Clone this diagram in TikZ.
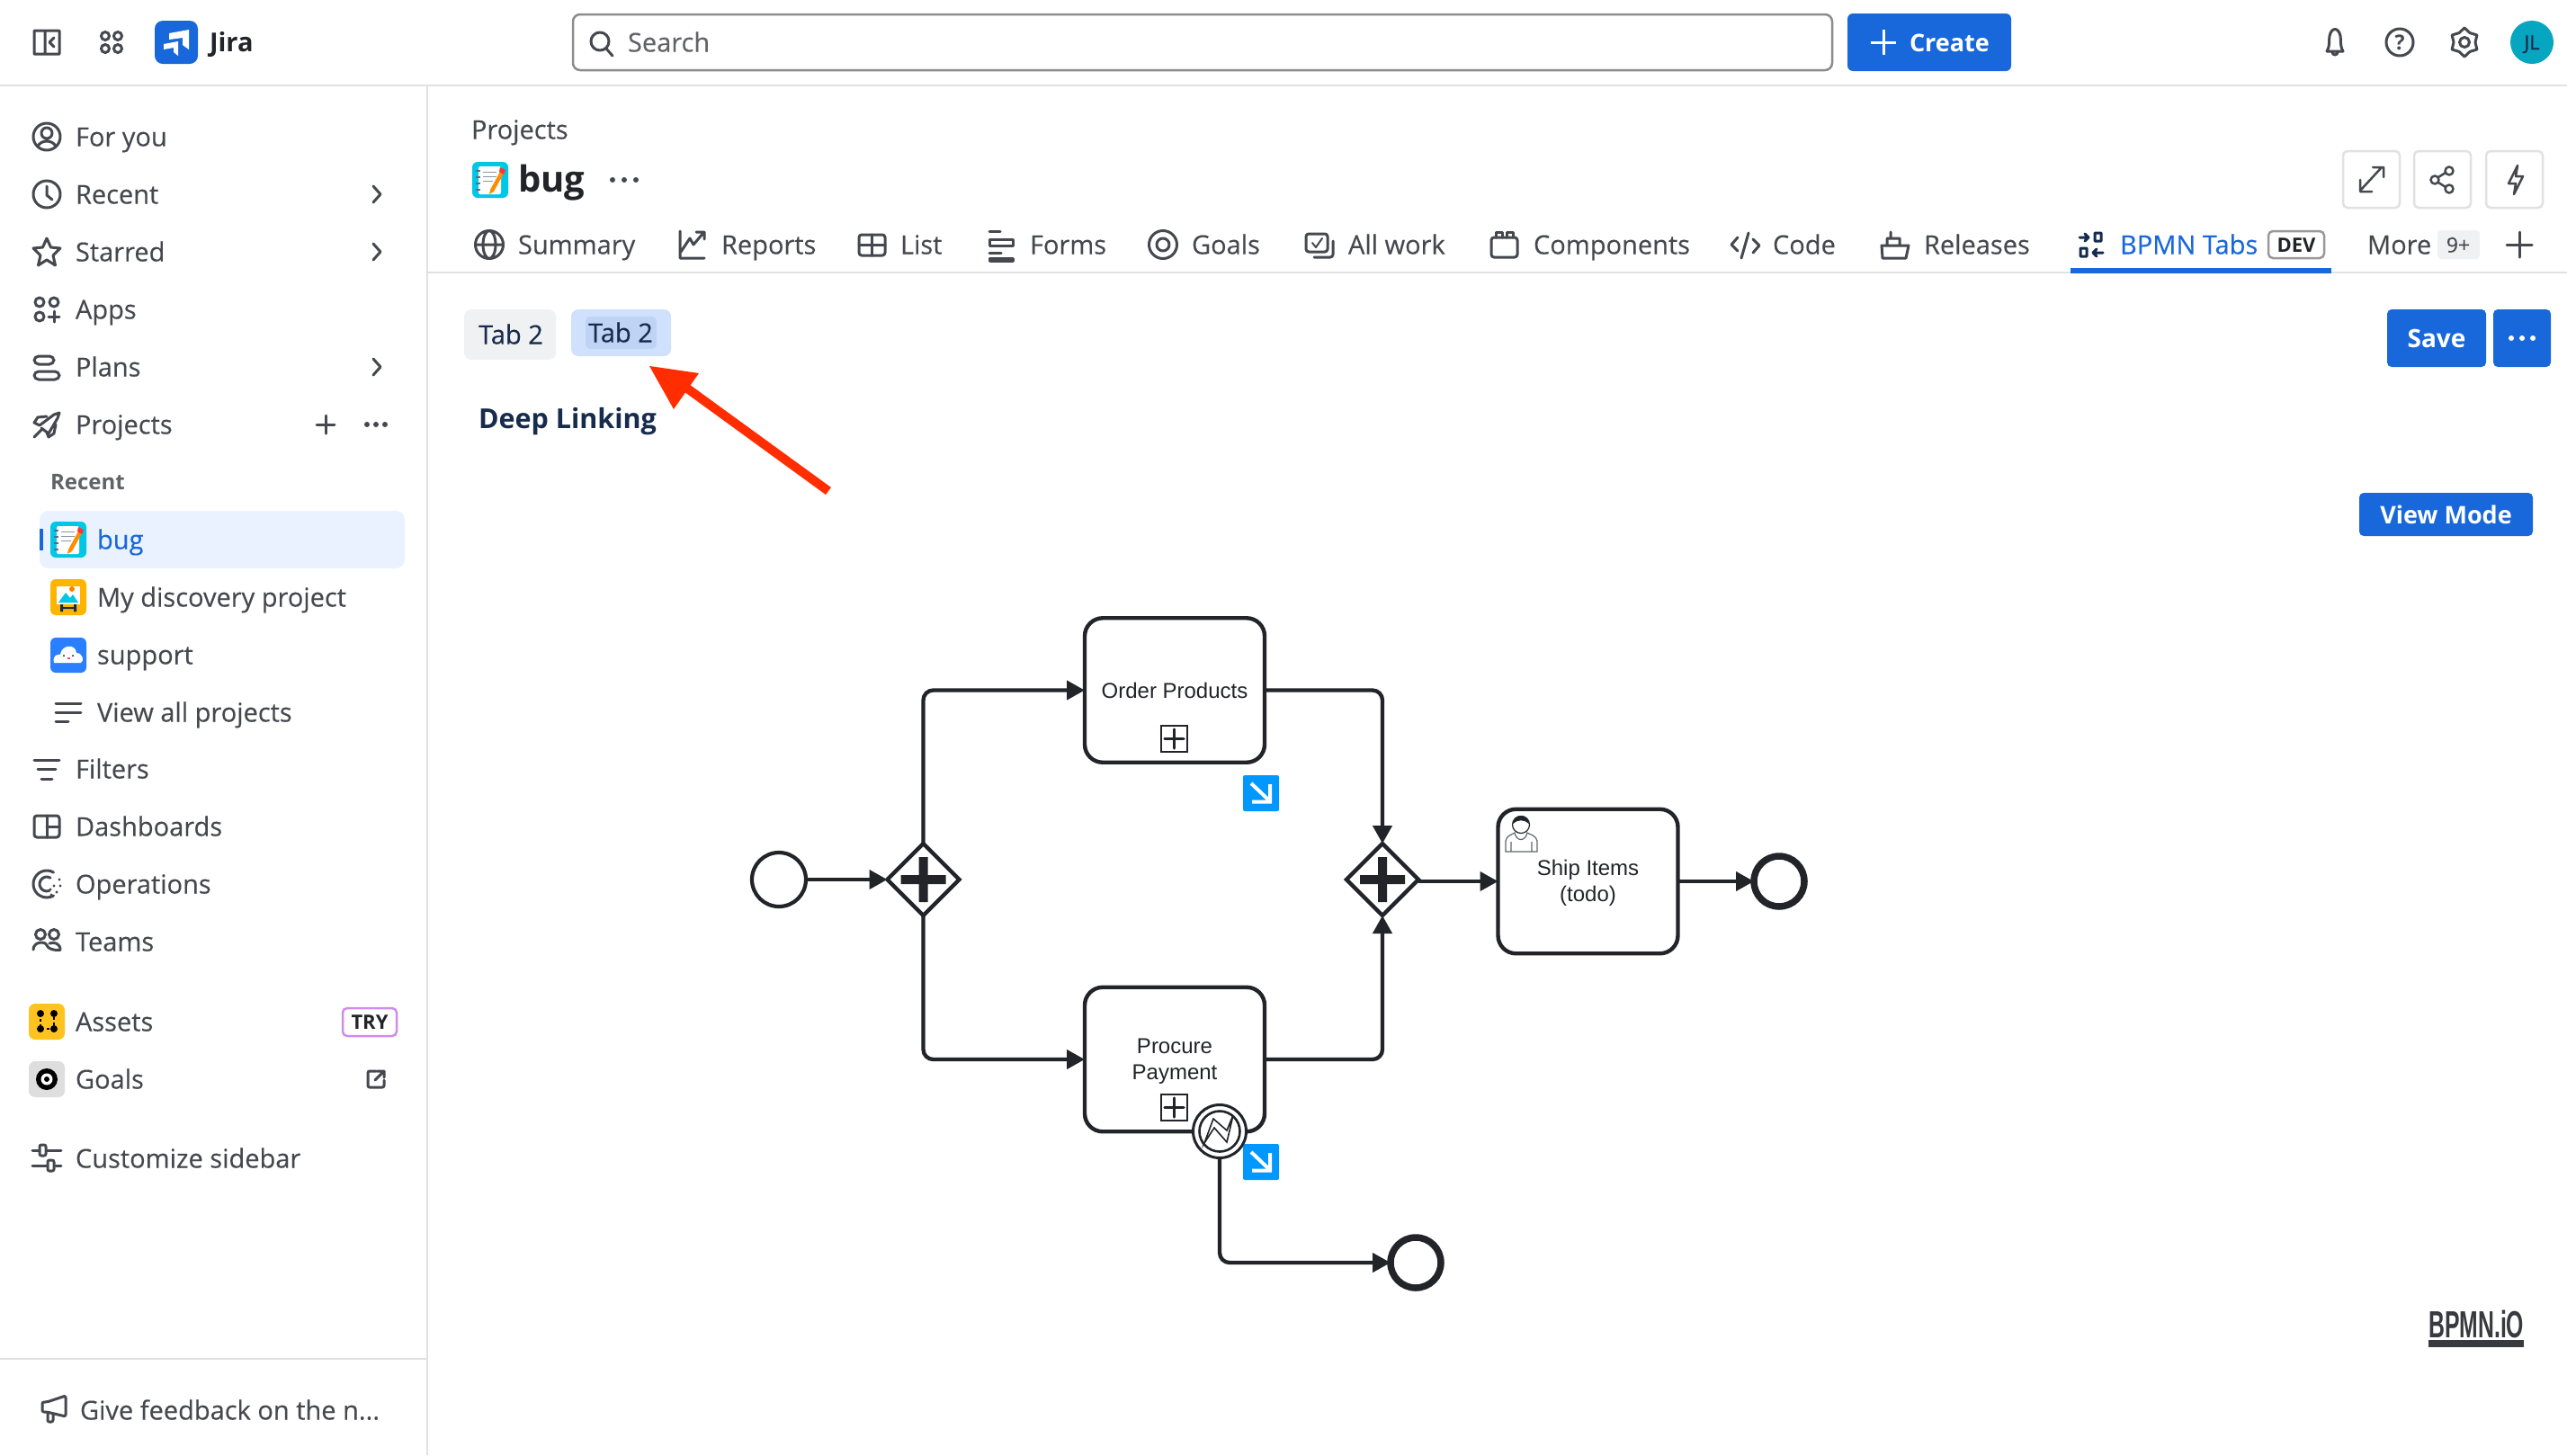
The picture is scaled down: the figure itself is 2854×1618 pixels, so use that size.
\documentclass[tikz,border=0pt]{standalone}
\usepackage{fontspec}
\setmainfont{Open Sans}[UprightFeatures={FakeBold=0.25}]
\newfontfamily\arialf{Liberation Sans}
\newfontfamily\logof{Liberation Sans}[FakeStretch=0.59]
\usetikzlibrary{shapes.geometric,arrows.meta,calc}
\definecolor{ink}{HTML}{46484F}
\definecolor{navy}{HTML}{172B4D}
\definecolor{jblue}{HTML}{1868DB}
\definecolor{rulec}{HTML}{E0E1E3}
\definecolor{hili}{HTML}{E9F2FE}
\definecolor{tabgrey}{HTML}{F0F1F2}
\definecolor{tabblue}{HTML}{CFE1FD}
\definecolor{tabin}{HTML}{BFD3F5}
\definecolor{redar}{HTML}{FF2D00}
\definecolor{bpdark}{HTML}{22242A}
\definecolor{markblue}{HTML}{0098FF}
\definecolor{bugcyan}{HTML}{00C7E6}
\definecolor{discyel}{HTML}{FFB400}
\definecolor{supblue}{HTML}{2A7FFF}
\definecolor{assetyel}{HTML}{FFC31F}
\definecolor{tryvio}{HTML}{CF8CF0}
\definecolor{avateal}{HTML}{06A5C0}
\tikzset{
 x=1pt,y=-1pt,
 txt/.style={inner sep=0pt,outer sep=0pt,anchor=west,text=ink,text height=21pt,text depth=0pt,font=\fontsize{29}{34}\selectfont},
 tabt/.style={txt},
 ico/.style={draw=ink,line width=3pt,line cap=round,line join=round},
 task/.style={draw=bpdark,fill=white,line width=4.4pt,rounded corners=20pt,minimum width=200pt,minimum height=160.5pt,inner sep=0pt,outer sep=0pt,align=center,text=bpdark,font=\arialf\fontsize{24}{29}\selectfont},
 gate/.style={draw=bpdark,fill=white,line width=4.4pt,diamond,aspect=1,minimum size=80pt,inner sep=0pt,outer sep=0pt},
 startev/.style={draw=bpdark,fill=white,line width=4.2pt,circle,minimum size=60pt,inner sep=0pt,outer sep=0pt},
 endev/.style={draw=bpdark,fill=white,line width=7.5pt,circle,minimum size=56pt,inner sep=0pt,outer sep=0pt},
 flow/.style={draw=bpdark,line width=4.3pt,rounded corners=11pt,-{Triangle[length=20pt,width=21pt,fill=bpdark]}},
 btn/.style={fill=jblue,rounded corners=5pt,inner sep=0pt,text=white,font=\fontsize{27}{32}\selectfont\bfseries},
 frame/.style={draw=rulec,line width=2.5pt,rounded corners=5pt},
}
\newcommand{\plusgate}[1]{\fill[bpdark] ($(#1)+(-25,-5)$) rectangle ($(#1)+(25,5)$) ($(#1)+(-5,-25)$) rectangle ($(#1)+(5,25)$);}
\newcommand{\submark}[2]{\begin{scope}[shift={(#1,#2)}]
 \draw[bpdark,line width=2pt,fill=white] (0,0) rectangle (29,29);
 \draw[bpdark,line width=3.5pt,line cap=round] (14.5,4) -- (14.5,25) (4,14.5) -- (25,14.5);
\end{scope}}
\newcommand{\jumpmark}[2]{\begin{scope}[shift={(#1,#2)}]
 \fill[markblue,rounded corners=2pt] (0,0) rectangle (40,40);
 \draw[white,line width=4pt] (9,9) -- (29,28) (10,29.5) -- (30,29.5) -- (30,10);
\end{scope}}
\newcommand{\bugicon}[2]{\begin{scope}[shift={(#1,#2)}]
 \fill[bugcyan,rounded corners=6pt] (-20,-20) rectangle (20,20);
 \fill[white,rounded corners=2pt] (-13,-15) rectangle (12,16);
 \draw[navy!50,line width=1pt] (-8,-9) -- (7,-9) (-8,-4) -- (7,-4) (-8,1) -- (3,1);
 \draw[navy!70,line width=1.5pt] (-16,-10) -- (-11,-10) (-16,-3) -- (-11,-3) (-16,4) -- (-11,4) (-16,11) -- (-11,11);
 \fill[orange!90!yellow] (11,-9) -- (0,11) -- (-1,16) -- (4,13) -- (15,-7) -- cycle;
 \fill[red!80] (11,-14) -- (10,-9) -- (15,-6) -- (17,-11) -- cycle;
\end{scope}}
\begin{document}
\begin{tikzpicture}
\useasboundingbox (0,0) rectangle (2854,1618);
\fill[white] (0,0) rectangle (2854,1618);
% frame lines
\draw[rulec,line width=2.5pt] (0,95) -- (2854,95) (475,95) -- (475,1618) (0,1511) -- (475,1511) (475,303) -- (2854,303);
% top bar
\draw[ico] (38,34) rectangle (66,60) (50,34) -- (50,60) (60,42) -- (55,47) -- (60,52);
\foreach \a/\b in {117/40,131/40,117/54,131/54}{\draw[ico] (\a,\b) circle (4.5);}
\fill[jblue,rounded corners=9pt] (172,23) rectangle (220,71);
\fill[white] (188,37) -- (210,33) -- (210,55) -- (203,50) -- (203,42) -- (188,44) -- cycle;
\fill[white] (182,49) -- (198,46) -- (198,62) -- (193,58) -- (193,53) -- (182,55) -- cycle;
\node[txt,text=bpdark,font=\fontsize{29}{34}\selectfont\bfseries] (jira) at (233,47) {Jira};
\draw[draw=black!45,line width=2.5pt,rounded corners=8pt] (637,16) rectangle (2037,78);
\draw[ico] (667,46) circle (10) (674,54) -- (681,62);
\node[txt,text=ink!85] (search) at (698,47) {Search};
\fill[jblue,rounded corners=6pt] (2054,15) rectangle (2236,79);
\draw[white,line width=3pt] (2080,47) -- (2108,47) (2094,33) -- (2094,61);
\node[txt,text=white,font=\fontsize{27}{32}\selectfont\bfseries] (create) at (2123,47) {Create};
\draw[ico] (2587,57) .. controls (2591,50) and (2589,44) .. (2590,40) .. controls (2592,30) and (2600,30) .. (2602,40) .. controls (2603,44) and (2601,50) .. (2605,57) -- cycle (2593,58) arc (180:0:3);
\draw[ico] (2668,47) circle (15);
\node[txt,anchor=center,text height=17pt,font=\fontsize{23}{26}\selectfont\bfseries] (helpq) at (2668,47) {?};
\draw[ico] (2740,47) circle (5.5);
\draw[ico] (2740,31) -- (2746,36.6) -- (2753.9,39) -- (2752,47) -- (2753.9,55) -- (2746,57.4) -- (2740,63) -- (2734,57.4) -- (2726.1,55) -- (2728,47) -- (2726.1,39) -- (2734,36.6) -- cycle;
\fill[avateal] (2815,47) circle (24);
\node[txt,anchor=center,text=navy,text height=16pt,font=\fontsize{22}{26}\selectfont] (avatar) at (2815,47) {JL};
% sidebar
\draw[ico] (52,152) circle (15) (52,148) circle (6) (42,163) .. controls (45,155) and (59,155) .. (62,163);
\node[txt] (s1) at (84,152) {For you};
\draw[ico] (52,216) circle (15) (52,207) -- (52,217) -- (58,222);
\node[txt] (s2) at (84,216) {Recent};
\draw[ico] (52,265) -- (56.5,275) -- (67,276) -- (59,284) -- (61.5,295) -- (52,289) -- (42.5,295) -- (45,284) -- (37,276) -- (47.5,275) -- cycle;
\node[txt] (s3) at (84,280) {Starred};
\foreach \a/\b in {44/336,60/336,44/352}{\draw[ico] (\a,\b) circle (5);}
\draw[ico] (60,346) -- (60,358) (54,352) -- (66,352);
\node[txt] (s4) at (84,344) {Apps};
\draw[ico,rounded corners=5pt] (38,396) rectangle (60,405) (38,413) rectangle (66,422);
\node[txt] (s5) at (84,408) {Plans};
\draw[ico] (44,473) -- (60,461) -- (66,459) -- (64,465) -- (54,482) -- (46,476) (52,463) -- (42,464) -- (38,470) -- (44,473) (62,472) -- (60,482) -- (54,486) -- (52,481) (38,486) -- (46,478);
\node[txt] (s6) at (84,472) {Projects};
\foreach \b in {216,280,408}{\draw[ico,line width=3pt] (415,\b-9) -- (423,\b) -- (415,\b+9);}
\draw[ico] (362,462) -- (362,482) (352,472) -- (372,472);
\foreach \a in {408,418,428}{\fill[ink] (\a,472) circle (3);}
\node[txt,font=\fontsize{24}{28}\selectfont\bfseries,text=ink!85] (srecent) at (56,534) {Recent};
\fill[hili,rounded corners=10pt] (44,568) rectangle (450,632);
\fill[jblue] (44,588) rectangle (48,612);
\bugicon{76}{600}
\node[txt,text=jblue] (sbug) at (108,600) {bug};
\fill[discyel,rounded corners=6pt] (56,644) rectangle (96,684);
\fill[white] (63,652) rectangle (89,672);
\fill[bugcyan] (65,670) -- (73,659) -- (78,665) -- (81,661) -- (87,670) -- cycle;
\fill[orange] (80,655) circle (3);
\fill[navy] (67,672) rectangle (70,680) (82,672) rectangle (85,680) (67,675) rectangle (85,677);
\node[txt] (sdisc) at (108,664) {My discovery project};
\fill[supblue,rounded corners=6pt] (56,709) rectangle (96,748);
\fill[white] (60,737) .. controls (58,729) and (64,727) .. (67,728) .. controls (68,717) and (84,715) .. (85,726) .. controls (92,726) and (94,735) .. (90,737) -- cycle;
\fill[black] (71,729) circle (1) (81,729) circle (1);
\fill[red!70] (75,731) rectangle (78,733);
\node[txt] (ssup) at (108,728) {support};
\draw[ico] (62,782) -- (90,782) (62,792) -- (90,792) (62,802) -- (76,802);
\node[txt] (sall) at (108,792) {View all projects};
\draw[ico] (38,845) -- (66,845) (42,855) -- (62,855) (46,866) -- (58,866);
\node[txt] (sfil) at (84,855) {Filters};
\draw[ico,rounded corners=3pt] (38,907) rectangle (66,931);
\draw[ico] (52,907) -- (52,931) (52,919) -- (66,919);
\node[txt] (sdash) at (84,919) {Dashboards};
\draw[ico] (52,983) ++(-60:15) arc (-60:-300:15);
\draw[ico] (52,983) ++(-60:8) arc (-60:-290:8);
\foreach \a/\b in {66/978,67/985,63/992,57/995,60/985,56/989}{\fill[ink] (\a,\b) circle (1.6);}
\node[txt] (sops) at (84,983) {Operations};
\draw[ico] (45,1039) circle (5.5) (60,1039) circle (5.5) (37,1056) .. controls (37,1047) and (50,1046) .. (52,1051) .. controls (54,1057) and (67,1057) .. (67,1056) .. controls (67,1049) and (60,1047) .. (55,1049);
\node[txt] (steam) at (84,1047) {Teams};
\fill[assetyel,rounded corners=7pt] (32,1116) rectangle (72,1156);
\foreach \a/\b in {45/1127,60/1127,45/1144,60/1144}{\fill[black] (\a,\b) circle (4);}
\draw[black,line width=2pt,dashed] (45,1127) -- (45,1144) -- (60,1144) -- (60,1127);
\node[txt] (sass) at (84,1136) {Assets};
\draw[draw=tryvio,line width=2.5pt,rounded corners=5pt] (381,1121) rectangle (441,1152);
\node[txt,anchor=center,text=bpdark,text height=16pt,font=\fontsize{22}{26}\selectfont\bfseries] (stry) at (411,1136) {TRY};
\fill[black!13,rounded corners=7pt] (32,1180) rectangle (72,1220);
\fill[black] (52,1200) circle (12);
\fill[white] (52,1200) circle (6.5);
\fill[black] (52,1200) circle (3);
\node[txt] (sgoal) at (84,1200) {Goals};
\draw[ico,rounded corners=2pt] (418,1191) -- (409,1191) -- (409,1209) -- (427,1209) -- (427,1201);
\draw[ico] (417,1201) -- (427,1191) (419,1191) -- (427,1191) -- (427,1198);
\draw[ico] (36,1279) -- (44,1279) (52,1279) -- (68,1279) (36,1296) -- (52,1296) (62,1296) -- (68,1296);
\draw[ico,rounded corners=2pt] (44,1273) rectangle (51,1285) (53,1290) rectangle (60,1302);
\node[txt] (scust) at (84,1288) {Customize sidebar};
\draw[ico,rounded corners=2pt] (52,1559) -- (73,1552) -- (73,1575) -- (52,1570) -- (47,1570) -- (47,1559) -- cycle (53,1571) -- (53,1581) -- (59,1581) -- (59,1572);
\node[txt] (sfeed) at (89,1568) {Give feedback on the n...};
% header
\node[txt] (crumb) at (524,144) {Projects};
\bugicon{545}{200}
\node[txt,anchor=west,text=bpdark,text height=21pt,font=\fontsize{40}{44}\selectfont\bfseries] (ptitle) at (576,203) {bug};
\foreach \a in {681,694,707}{\fill[ink] (\a,200) circle (3);}
\draw[frame] (2605,168) rectangle (2668,231) (2684,168) rectangle (2747,231) (2764,168) rectangle (2827,231);
\draw[ico,line width=2.5pt] (2624,212) -- (2648,186) (2638,186) -- (2650,186) -- (2650,197) (2624,200) -- (2624,213) -- (2637,213);
\draw[ico,line width=2.5pt] (2723,190) circle (4.5) (2723,210) circle (4.5) (2707,200) circle (4.5) (2711,197) -- (2719,192) (2711,203) -- (2719,208);
\draw[ico,line width=2.5pt] (2799,184) -- (2789,204) -- (2797,204) -- (2795,216) -- (2805,196) -- (2797,196) -- cycle;
% tabs
\draw[ico] (544,272) circle (15.5) (544,272) ellipse (7 and 15.5) (529,272) -- (559,272);
\node[tabt] (t1) at (576,272) {Summary};
\draw[ico] (756,257) -- (756,287) -- (783,287) (757,280) -- (767,265) -- (771,272) -- (782,259) (774,258) -- (783,258) -- (783,266);
\node[tabt] (t2) at (802,272) {Reports};
\draw[ico,rounded corners=3pt] (955,261) rectangle (984,284);
\draw[ico] (955,272) -- (984,272) (969,261) -- (969,284);
\node[tabt] (t3) at (1001,272) {List};
\draw[ico] (1100,257) -- (1112,257) (1100,266) rectangle (1126,273) (1100,281) -- (1113,281) (1100,287) rectangle (1126,290);
\node[tabt] (t4) at (1145,272) {Forms};
\draw[ico] (1293,272) circle (15.5) (1293,272) circle (7);
\node[tabt] (t5) at (1325,272) {Goals};
\draw[ico,rounded corners=3pt] (1452,260) rectangle (1476,280) (1482,268) -- (1482,286) -- (1461,286);
\draw[ico,line width=2pt] (1459,270) -- (1463,275) -- (1470,265);
\node[tabt] (t6) at (1499,272) {All work};
\draw[ico,rounded corners=3pt] (1658,264) rectangle (1687,286);
\draw[ico] (1663,264) -- (1663,258) -- (1670,258) -- (1670,264) (1675,264) -- (1675,258) -- (1682,258) -- (1682,264);
\node[tabt] (t7) at (1705,272) {Components};
\draw[ico] (1932,264) -- (1925,272) -- (1932,279) (1949,266) -- (1956,273) -- (1949,281) (1944,259) -- (1936,287);
\node[tabt] (t8) at (1971,272) {Code};
\draw[ico] (2092,273) -- (2122,273) -- (2119,287) -- (2093,287) -- cycle (2098,273) -- (2098,265) -- (2112,265) -- (2112,273) (2102,265) -- (2102,258);
\node[tabt] (t9) at (2139,272) {Releases};
\draw[ico,draw=navy] (2312,264) -- (2322,264) (2318,260) -- (2322,264) -- (2318,268) (2329,259) rectangle (2336,268) (2313,276) rectangle (2320,285) (2338,281) -- (2327,281) (2331,277) -- (2327,281) -- (2331,285);
\node[tabt,text=jblue] (t10) at (2357,272) {BPMN Tabs};
\draw[draw=black!40,line width=2.5pt,rounded corners=5pt] (2522,257) rectangle (2584,287);
\node[txt,anchor=center,text=bpdark,text height=16pt,font=\fontsize{22}{26}\selectfont\bfseries] (dev) at (2553,272) {DEV};
\fill[jblue] (2302,298) rectangle (2592,304);
\node[tabt] (t11) at (2632,272) {More};
\fill[tabgrey,rounded corners=4pt] (2710,256) rectangle (2757,288);
\node[txt,anchor=center,text height=17pt,font=\fontsize{23}{26}\selectfont] (nine) at (2733,272) {9+};
\draw[ico] (2801,258) -- (2801,286) (2787,272) -- (2815,272);
% sub-tabs
\fill[tabgrey,rounded corners=8pt] (516,344) rectangle (618,400);
\node[txt,anchor=center,text=navy] (tab1) at (568,372) {Tab 2};
\fill[tabblue,rounded corners=8pt] (635,344) rectangle (746,396);
\fill[tabin,rounded corners=6pt] (651,352) rectangle (730,388);
\node[txt,anchor=center,text=navy] (tab2) at (690,370) {Tab 2};
\node[txt,text=navy,text height=23pt,font=\fontsize{30.5}{36}\selectfont\bfseries] (deep) at (532,465) {Deep Linking};
% red arrow
\coordinate (artail) at (921,546);
\coordinate (arhead) at (745,418);
\draw[redar,line width=10pt] (artail) -- (arhead);
\fill[redar] (722,407) -- (777,415) -- (749,455) -- cycle;
% right buttons
\node[btn,minimum width=110pt,minimum height=64pt,font=\fontsize{28}{32}\selectfont\bfseries] (save) at (2709,376) {Save};
\fill[jblue,rounded corners=5pt] (2772,344) rectangle (2836,408);
\foreach \a in {2792,2804,2816}{\fill[white] (\a,376) circle (3);}
\node[btn,minimum width=193pt,minimum height=48pt] (viewm) at (2719.5,572) {View Mode};
% BPMN
\node[task] (order) at (1306,767.5) {Order Products};
\node[task] (proc) at (1306,1178) {\rule{0pt}{21pt}Procure\\Payment};
\node[task] (ship) at (1765.5,980) {\rule{0pt}{21pt}Ship Items\\(todo)};
\node[startev] (st) at (866,978) {};
\node[gate] (g1) at (1026.5,978) {};
\node[gate] (g2) at (1537,978) {};
\node[endev] (e1) at (1978,980) {};
\node[endev] (e2) at (1574,1404) {};
\draw[flow] (st) -- (g1);
\draw[flow] (g1.north) |- (order.west);
\draw[flow] (g1.south) |- (proc.west);
\draw[flow] (order.east) -| (g2.north);
\draw[flow] (proc.east) -| (g2.south);
\draw[flow] (g2.east |- ship.west) -- (ship.west);
\draw[flow] (ship.east) -- (e1.west);
\submark{1291}{807}
\submark{1291}{1217}
\jumpmark{1382}{862}
\jumpmark{1382}{1272}
\plusgate{g1}
\plusgate{g2}
% boundary event
\node[circle,draw=bpdark,fill=white,line width=3pt,minimum size=59pt,inner sep=0pt,outer sep=0pt] (bev) at (1356,1258) {};
\node[circle,draw=bpdark,fill=white,line width=2.6pt,minimum size=45pt,inner sep=0pt,outer sep=0pt] (bevin) at (bev) {};
\draw[bpdark,line width=1.6pt,line join=miter] (1339,1271) -- (1349,1244) -- (1364,1257) -- (1371,1240) -- (1364,1270) -- (1350,1254) -- cycle;
\draw[flow] (bev.south) |- (e2.west);
% user icon
\draw[bpdark,line width=1.2pt] (1691,917) circle (9.5);
\fill[bpdark] (1682,916) .. controls (1682,904) and (1700,904) .. (1700,916) .. controls (1695,911) and (1687,911) .. (1682,916);
\draw[bpdark!70,line width=1.2pt] (1674,947) -- (1674,935) .. controls (1675,929) and (1681,928) .. (1684,926) .. controls (1686,936) and (1696,936) .. (1698,926) .. controls (1701,928) and (1708,929) .. (1709,935) -- (1709,947) -- cycle (1680,947) -- (1680,936) (1703,947) -- (1703,936);
% logo
\node[inner sep=0pt,anchor=west,text=bpdark!90,text height=30pt,text depth=0pt,font=\logof\fontsize{42}{46}\selectfont\bfseries] (logo) at (2700,1472) {BPMN.iO};
\fill[bpdark!90] (2700,1490) rectangle (2806,1498);
\end{tikzpicture}
\end{document}
